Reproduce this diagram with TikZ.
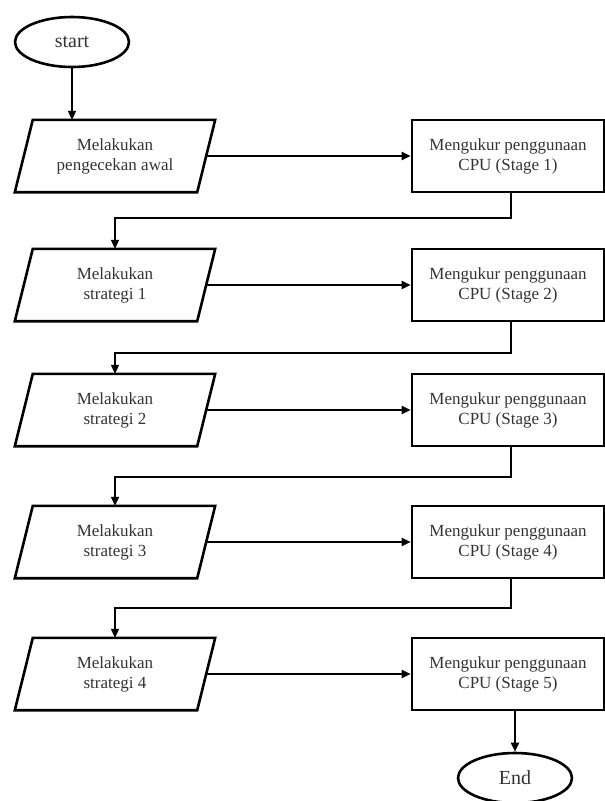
\documentclass[tikz,border=0pt]{standalone}
\usepackage{fontspec}
\setmainfont{Liberation Serif}
\usetikzlibrary{arrows.meta,shapes.geometric}
\begin{document}
\begin{tikzpicture}[x=1pt,y=-1pt,
  txt/.style={align=center, inner sep=0pt, text=black!80, font=\fontsize{17}{20}\selectfont},
  box/.style={txt, draw, line width=2.6pt, minimum width=192pt, minimum height=72pt},
  iobox/.style={txt, minimum width=182pt, minimum height=72pt},
  term/.style={txt, draw, ellipse, line width=2.6pt, minimum width=114pt, minimum height=50pt, font=\fontsize{20}{24}\selectfont},
  conn/.style={line width=2pt, -{Triangle[length=9pt,width=8pt]}},
  line/.style={line width=2pt}]
\useasboundingbox (0,0) rectangle (605,801);
\node[term] (start) at (72,42) {start};
\node[iobox] (p1) at (115,156) {Melakukan\\pengecekan awal};
\node[iobox] (p2) at (115,285) {Melakukan\\strategi 1};
\node[iobox] (p3) at (115,410) {Melakukan\\strategi 2};
\node[iobox] (p4) at (115,542) {Melakukan\\strategi 3};
\node[iobox] (p5) at (115,674) {Melakukan\\strategi 4};
\node[box] (r1) at (508,156) {Mengukur penggunaan\\CPU (Stage 1)};
\node[box] (r2) at (508,285) {Mengukur penggunaan\\CPU (Stage 2)};
\node[box] (r3) at (508,410) {Mengukur penggunaan\\CPU (Stage 3)};
\node[box] (r4) at (508,542) {Mengukur penggunaan\\CPU (Stage 4)};
\node[box] (r5) at (508,674) {Mengukur penggunaan\\CPU (Stage 5)};
\node[term] (end) at (515,778) {End};
\foreach \n in {p1,p2,p3,p4,p5}
  \draw[line width=2.6pt, line join=miter]
    ([xshift=9pt]\n.north west) -- ([xshift=9pt]\n.north east)
    -- ([xshift=-9pt]\n.south east) -- ([xshift=-9pt]\n.south west) -- cycle;
\coordinate (c1) at (511,218);
\coordinate (c2) at (511,353);
\coordinate (c3) at (511,477);
\coordinate (c4) at (511,608);
\draw[conn] (start) -- (start |- p1.north);
\foreach \i in {1,...,5}
  \draw[conn] (p\i.east) -- (r\i.west);
\foreach \i/\j in {1/2,2/3,3/4,4/5}
  \draw[conn] (c\i |- r\i.south) -- (c\i) -| (p\j.north);
\draw[conn] (end |- r5.south) -- (end.north);
\end{tikzpicture}
\end{document}
